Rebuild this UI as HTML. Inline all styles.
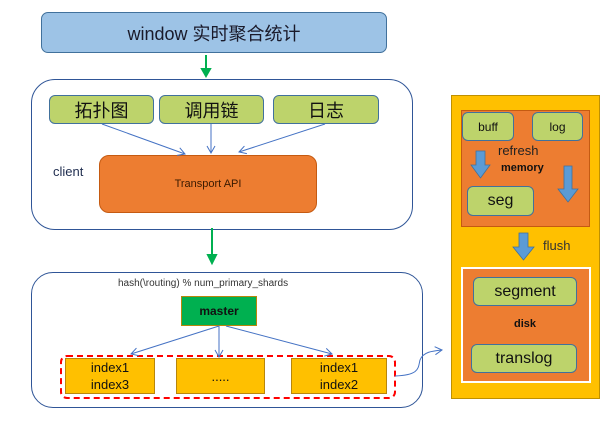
<!DOCTYPE html>
<html><head><meta charset="utf-8"><style>
body{margin:0;width:616px;height:427px;background:#fff;position:relative;overflow:hidden;font-family:"Liberation Sans","Noto Sans CJK SC",sans-serif;}
.a{position:absolute;box-sizing:border-box;}
.c{display:flex;align-items:center;justify-content:center;text-align:center;}
.g{background:#BDD36B;border:1.5px solid #41719C;border-radius:6px;color:#111;}
.y{background:#FFC000;border:1.5px solid #B8860B;color:#111;font-size:13px;line-height:17px;}
</style></head><body>
<div class="a c" style="left:41px;top:12px;width:346px;height:41px;background:#9DC3E6;border:1.5px solid #41719C;border-radius:7px;font-size:18px;color:#1a1a2a;">window 实时聚合统计</div>
<div class="a" style="left:31px;top:79px;width:382px;height:151px;border:1.5px solid #2F5597;border-radius:24px;"></div>
<div class="a c g" style="left:49px;top:95px;width:105px;height:29px;font-size:18px;">拓扑图</div>
<div class="a c g" style="left:159px;top:95px;width:105px;height:29px;font-size:18px;">调用链</div>
<div class="a c g" style="left:273px;top:95px;width:106px;height:29px;font-size:18px;">日志</div>
<div class="a" style="left:53px;top:164px;font-size:13px;color:#1F2D4F;">client</div>
<div class="a c" style="left:99px;top:155px;width:218px;height:58px;background:#ED7D31;border:1px solid #C55A11;border-radius:10px;font-size:11px;color:#3a1a00;">Transport API</div>
<div class="a" style="left:31px;top:272px;width:392px;height:136px;border:1.5px solid #2F5597;border-radius:22px;"></div>
<div class="a" style="left:118px;top:278px;font-size:10px;color:#333;">hash(\routing) % num_primary_shards</div>
<div class="a c" style="left:181px;top:296px;width:76px;height:30px;background:#00B050;border:1.5px solid #B8860B;font-size:12px;font-weight:bold;color:#111;">master</div>
<div class="a" style="left:60px;top:355px;width:336px;height:44px;border:2.5px dashed #FF0000;border-radius:7px;"></div>
<div class="a c y" style="left:65px;top:358px;width:90px;height:36px;">index1<br>index3</div>
<div class="a c y" style="left:176px;top:358px;width:89px;height:36px;">.....</div>
<div class="a c y" style="left:291px;top:358px;width:96px;height:36px;">index1<br>index2</div>
<div class="a" style="left:451px;top:95px;width:149px;height:304px;background:#FFC000;border:1px solid #BF9000;"></div>
<div class="a" style="left:461px;top:110px;width:129px;height:117px;background:#ED7D31;border:1px solid #C55A11;"></div>
<div class="a c g" style="left:462px;top:112px;width:52px;height:29px;font-size:12px;">buff</div>
<div class="a c g" style="left:532px;top:112px;width:51px;height:29px;font-size:12px;">log</div>
<div class="a" style="left:498px;top:143px;font-size:13px;color:#222;">refresh</div>
<div class="a" style="left:501px;top:162px;font-size:11px;font-weight:bold;color:#111;">memory</div>
<div class="a c g" style="left:467px;top:186px;width:67px;height:30px;font-size:16px;">seg</div>
<div class="a" style="left:461px;top:267px;width:130px;height:116px;background:#ED7D31;border:2px solid #fff;"></div>
<div class="a c g" style="left:473px;top:277px;width:104px;height:29px;font-size:16px;">segment</div>
<div class="a" style="left:514px;top:318px;font-size:11px;font-weight:bold;color:#111;">disk</div>
<div class="a c g" style="left:471px;top:344px;width:106px;height:29px;font-size:16px;">translog</div>
<div class="a" style="left:543px;top:238px;font-size:13px;color:#333;">flush</div>
<svg class="a" style="left:0;top:0" width="616" height="427">
<defs><marker id="o" markerWidth="10" markerHeight="10" refX="8" refY="5" orient="auto" markerUnits="userSpaceOnUse"><path d="M1,1 L8,5 L1,9" fill="none" stroke="#4472C4" stroke-width="1"/></marker></defs>
<g stroke="#00B050" stroke-width="2" fill="#00B050">
<line x1="206" y1="55" x2="206" y2="70"/><path d="M202,69 L210,69 L206,76Z"/>
<line x1="212" y1="228" x2="212" y2="256"/><path d="M208,255 L216,255 L212,263Z"/>
</g>
<g stroke="#4472C4" stroke-width="1" fill="none" marker-end="url(#o)">
<line x1="102" y1="124" x2="185" y2="154"/>
<line x1="211" y1="124" x2="211" y2="153"/>
<line x1="325" y1="124" x2="239" y2="152"/>
<line x1="219" y1="326" x2="131" y2="354"/>
<line x1="219" y1="326" x2="219" y2="357"/>
<line x1="226" y1="326" x2="332" y2="354"/>
<path d="M395,376 C420,375 418,368 420,360 C423,352 432,351 442,350"/>
</g>
<g fill="#5B9BD5" stroke="#41719C" stroke-width="0.8">
<path d="M476,151 L485,151 L485,165 L490,165 L480.5,178 L471,165 L476,165Z"/>
<path d="M564,166 L572,166 L572,189 L578,189 L568,202 L558,189 L564,189Z"/>
<path d="M519,233 L528,233 L528,247 L534,247 L523.5,260 L513,247 L519,247Z"/>
</g>
</svg>
</body></html>
